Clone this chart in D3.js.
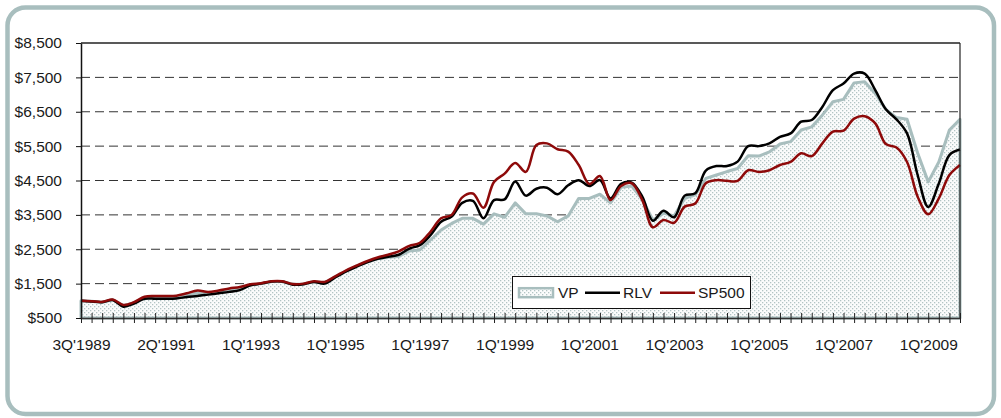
<!DOCTYPE html>
<html>
<head>
<meta charset="utf-8">
<script src="https://cdn.jsdelivr.net/npm/d3@7"></script>
<style>
  html, body { margin: 0; padding: 0; background: #fff; }
  svg { display: block; }
  text { font-family: "Liberation Sans", Arial, sans-serif; fill: #1a1a1a; }
</style>
</head>
<body>
<svg id="chart" width="1001" height="418"></svg>
<script>
// ---- data ----
const tickLabels = ["3Q'1989","2Q'1991","1Q'1993","1Q'1995","1Q'1997","1Q'1999","1Q'2001","1Q'2003","1Q'2005","1Q'2007","1Q'2009"];
const labelEvery = 8;
const yTickValues = [500,1500,2500,3500,4500,5500,6500,7500,8500];

const vp = [1000,990,960,1030,860,940,1090,1100,1100,1110,1170,1230,1220,1260,1310,1350,
  1460,1500,1560,1560,1480,1490,1560,1520,1690,1860,2000,2130,2220,2270,2290,2450,
  2480,2770,3060,3250,3400,3400,3230,3530,3430,3850,3530,3530,3470,3300,3470,3980,
  3980,4100,3850,4300,4340,3950,3350,3550,3470,3980,4080,4560,4660,4760,4850,5220,
  5210,5330,5560,5630,5970,6060,6400,6790,6860,7340,7370,7030,6570,6330,6280,5300,
  4460,5040,5970,6280];
const rlv = [1000,980,960,1020,830,920,1060,1060,1060,1070,1110,1140,1180,1220,1260,1310,
  1450,1500,1560,1560,1470,1480,1550,1500,1680,1850,1990,2120,2220,2280,2340,2520,
  2620,2910,3300,3450,3850,3910,3400,3930,3950,4470,4060,4260,4290,4100,4360,4510,
  4340,4510,3980,4400,4440,4030,3330,3620,3430,4060,4130,4790,4920,4920,5050,5500,
  5500,5580,5770,5870,6210,6260,6640,7130,7320,7610,7610,7130,6570,6280,5870,4660,
  3730,4410,5240,5400];
const sp500 = [1000,990,970,1040,880,960,1120,1140,1140,1150,1220,1300,1260,1300,1360,1400,
  1480,1510,1570,1570,1490,1500,1570,1550,1710,1880,2020,2150,2260,2340,2440,2600,
  2690,3010,3400,3500,4010,4120,3710,4460,4700,5010,4750,5530,5580,5410,5340,4950,
  4400,4630,3930,4340,4420,3930,3140,3350,3270,3740,3830,4420,4510,4490,4490,4800,
  4750,4800,4950,5040,5290,5210,5580,5920,5950,6300,6370,6160,5560,5460,5040,4030,
  3520,3980,4660,4950];
const seriesNames = ["VP","RLV","SP500"];

// ---- layout ----
const svg = d3.select("#chart");
const L = 81, R = 960, T = 43, B = 318;
const n = vp.length;
const x = d3.scalePoint().domain(d3.range(n)).range([L, R]);
const y = d3.scaleLinear().domain([500, 8500]).range([B, T]);

const gray = "#a8bebe";
const fmt = v => "$" + d3.format(",")(v);

// outer rounded frame
svg.append("rect").attr("x", 7.5).attr("y", 7.5).attr("width", 986.5).attr("height", 406.5)
  .attr("rx", 18).attr("ry", 18).attr("fill", "#fff").attr("stroke", gray).attr("stroke-width", 4.5);

// pattern
const defs = svg.append("defs");
const pat = defs.append("pattern").attr("id", "dots").attr("patternUnits", "userSpaceOnUse")
  .attr("width", 4).attr("height", 4);
pat.append("rect").attr("width", 4).attr("height", 4).attr("fill", "#fbfcfc");
pat.append("rect").attr("x", 0).attr("y", 0).attr("width", 1.3).attr("height", 1.3).attr("fill", "#b2c4c4");
pat.append("rect").attr("x", 2).attr("y", 2).attr("width", 1.3).attr("height", 1.3).attr("fill", "#b2c4c4");

// gridlines
svg.append("g").selectAll("line").data(yTickValues.filter(v => v > 500 && v < 8500)).join("line")
  .attr("x1", L).attr("x2", R).attr("y1", d => y(d)).attr("y2", d => y(d))
  .attr("stroke", "#333").attr("stroke-width", 1).attr("stroke-dasharray", "9,5");

// VP area
const area = d3.area().x((d, i) => x(i)).y0(y(500)).y1(d => y(d));
svg.append("path").datum(vp).attr("d", area)
  .attr("fill", "url(#dots)").attr("stroke", gray).attr("stroke-width", 3).attr("stroke-linejoin", "round");

// lines
const line = d3.line().x((d, i) => x(i)).y(d => y(d)).curve(d3.curveCatmullRom.alpha(0.5));
svg.append("path").datum(rlv).attr("d", line).attr("fill", "none")
  .attr("stroke", "#000").attr("stroke-width", 2.5).attr("stroke-linejoin", "round");
svg.append("path").datum(sp500).attr("d", line).attr("fill", "none")
  .attr("stroke", "#8e0a0a").attr("stroke-width", 2.5).attr("stroke-linejoin", "round");

// plot border top/right
svg.append("line").attr("x1", L).attr("x2", R).attr("y1", T).attr("y2", T).attr("stroke", "#222").attr("stroke-width", 1.5);
svg.append("line").attr("x1", R).attr("x2", R).attr("y1", T).attr("y2", B).attr("stroke", "#222").attr("stroke-width", 1.2);

// y axis
const yAxis = svg.append("g").attr("transform", `translate(${L},0)`)
  .call(d3.axisLeft(y).tickValues(yTickValues).tickFormat(fmt).tickSizeInner(5).tickSizeOuter(0).tickPadding(14));
yAxis.select(".domain").attr("stroke", "#111").attr("stroke-width", 1.5);
yAxis.selectAll(".tick line").attr("stroke", "#111");
yAxis.selectAll("text").style("font-size", "15.5px").attr("fill", "#1a1a1a");

// x axis
const xAxis = svg.append("g").attr("transform", `translate(0,${B})`)
  .call(d3.axisBottom(x).tickValues(d3.range(n)).tickFormat(i => i % labelEvery === 0 ? tickLabels[i / labelEvery] : "")
    .tickSizeInner(5).tickSizeOuter(0));
xAxis.select(".domain").attr("stroke", "#333").attr("stroke-width", 1.5);
xAxis.selectAll(".tick line").attr("y1", -5).attr("y2", 5).attr("stroke", "#222");
xAxis.selectAll("text").attr("y", 21).style("font-size", "15.5px").attr("fill", "#1a1a1a");

// legend
const lg = svg.append("g");
lg.append("rect").attr("x", 512.5).attr("y", 276.5).attr("width", 238).attr("height", 32)
  .attr("fill", "#fff").attr("stroke", "#111").attr("stroke-width", 1);
const ly = 292.7;
lg.append("rect").attr("x", 519).attr("y", ly - 4.5).attr("width", 34).attr("height", 9)
  .attr("fill", "url(#dots)").attr("stroke", gray).attr("stroke-width", 2.5);
lg.append("text").attr("x", 558).attr("y", ly + 5.7).style("font-size", "15.5px").text(seriesNames[0]);
lg.append("line").attr("x1", 585).attr("x2", 620).attr("y1", ly).attr("y2", ly).attr("stroke", "#000").attr("stroke-width", 2.5);
lg.append("text").attr("x", 623).attr("y", ly + 5.7).style("font-size", "15.5px").text(seriesNames[1]);
lg.append("line").attr("x1", 660).attr("x2", 695).attr("y1", ly).attr("y2", ly).attr("stroke", "#8e0a0a").attr("stroke-width", 2.5);
lg.append("text").attr("x", 698).attr("y", ly + 5.7).style("font-size", "15.5px").text(seriesNames[2]);
</script>
</body>
</html>
